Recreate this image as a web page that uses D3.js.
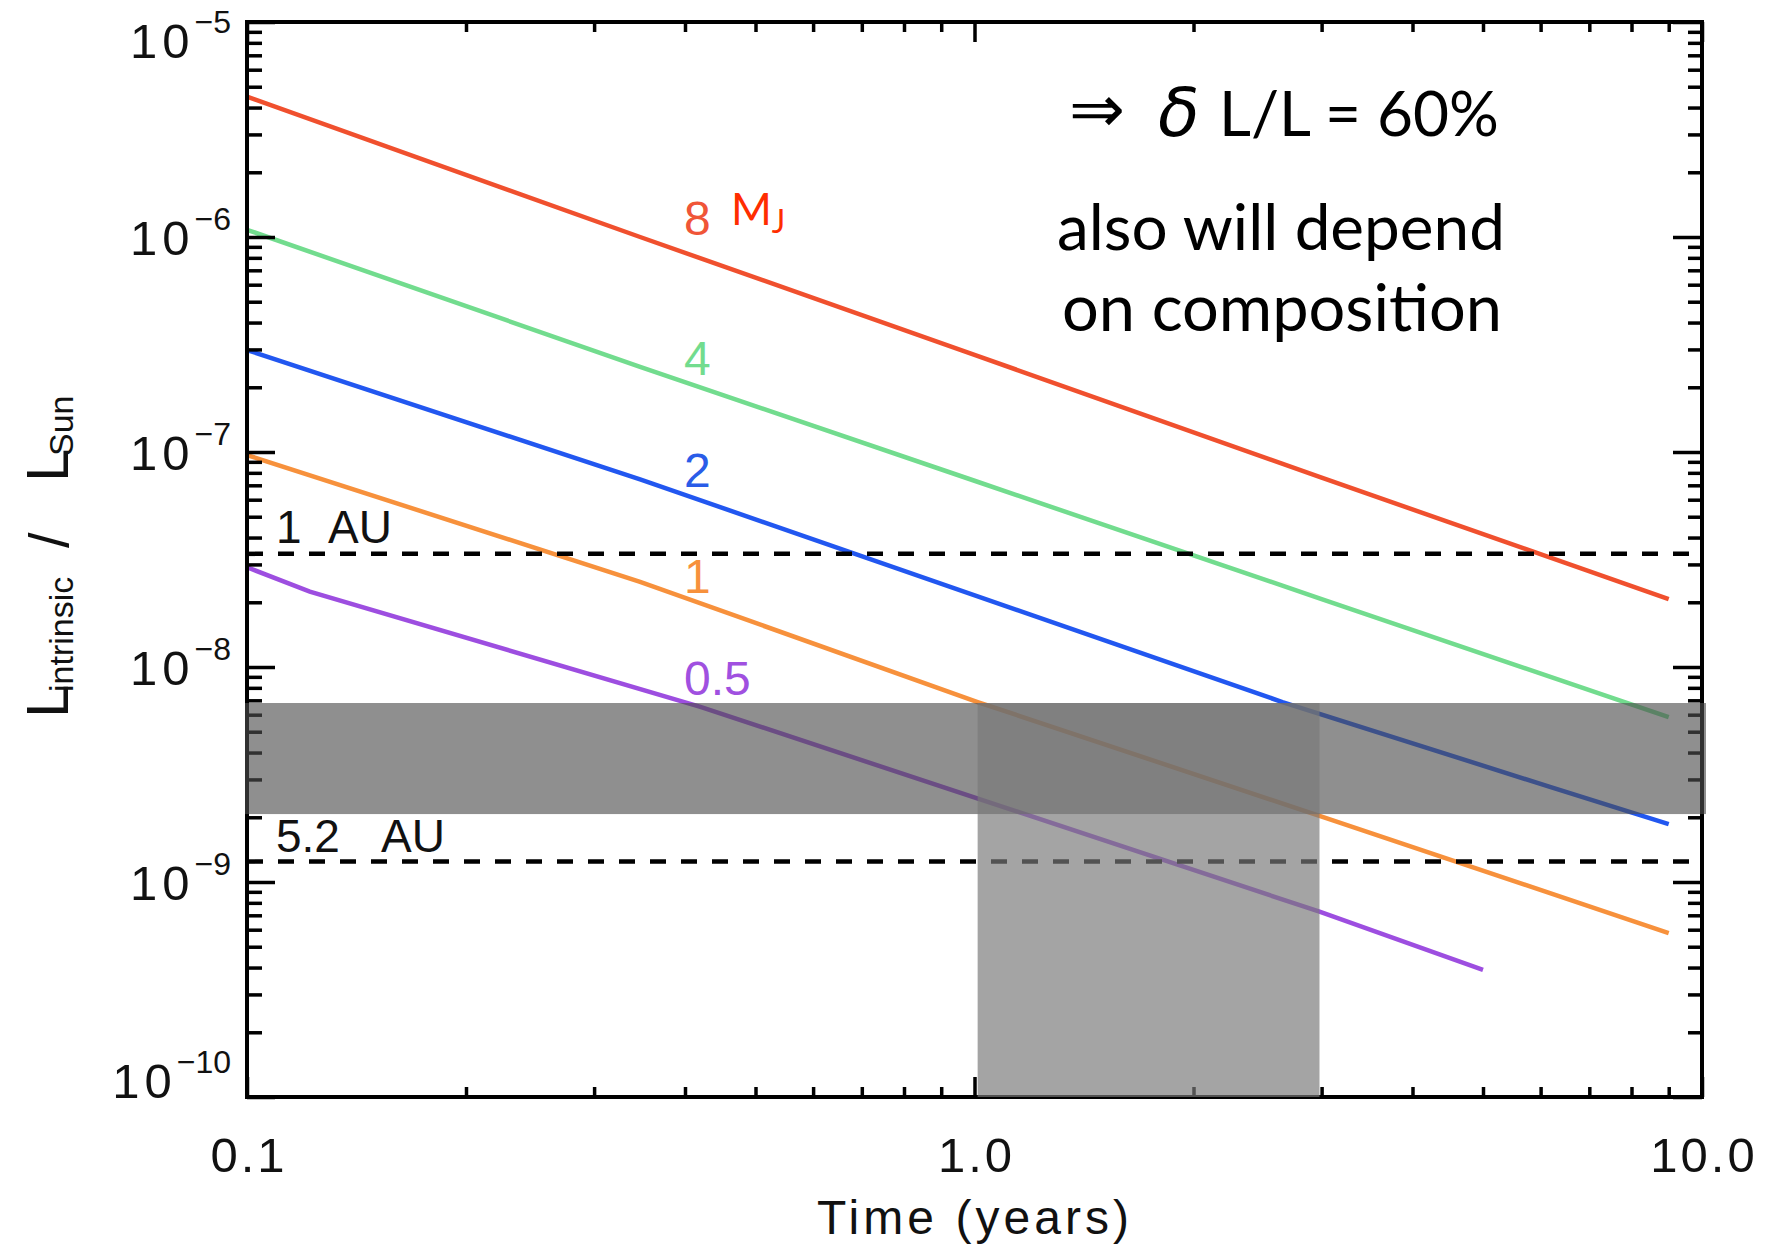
<!DOCTYPE html>
<html><head><meta charset="utf-8">
<script src="https://cdn.jsdelivr.net/npm/d3@7"></script>
<style>body{margin:0;background:#fff} svg{display:block}</style>
</head><body><svg id="c" width="1777" height="1250"></svg>
<script>
// ---------------- data ----------------
const massLabels = ["8", "4", "2", "1", "0.5"];
const seriesColors = ["#f0502e", "#72dc8e", "#2257f0", "#f7913c", "#9d4ee0"];
const time8 = [0.1, 0.347, 1, 3, 9];
const lum8 = [4.50e-6, 1.00e-6, 2.83e-7, 7.6e-8, 2.07e-8];
const time4 = [0.1, 0.347, 1, 3, 9];
const lum4 = [1.08e-6, 2.49e-7, 7.35e-8, 2.07e-8, 5.85e-9];
const time2 = [0.1, 0.347, 2.65, 6.18, 9];
const lum2 = [2.98e-7, 7.46e-8, 6.87e-9, 2.77e-9, 1.86e-9];
const time1 = [0.1, 0.347, 1.01, 2.98, 9];
const lum1 = [9.68e-8, 2.49e-8, 6.87e-9, 2.03e-9, 5.79e-10];
const time05 = [0.1, 0.122, 0.42, 2.98, 5];
const lum05 = [2.91e-8, 2.24e-8, 6.53e-9, 7.28e-10, 3.90e-10];

const xTickValues = [0.1, 1, 10];
const xTickLabels = ["0.1", "1.0", "10.0"];
const yTickExponents = [-5, -6, -7, -8, -9, -10];

const orbitLabels = ["1", "5.2"];
const orbitLum = [3.36e-8, 1.245e-9];
const bandLum = [2.07e-9, 6.8e-9];
const bandTime = [1.01, 2.98];

// ---------------- layout ----------------
const L = 247, R = 1702, T = 22, B = 1097;
const svg = d3.select("#c");
const x = d3.scaleLog().domain([0.1, 10]).range([L, R]);
const y = d3.scaleLog().domain([1e-10, 1e-5]).range([B, T]);
const tickFont = "'Liberation Sans', Arial, Helvetica, sans-serif";
const annFont = "Lato, 'Noto Sans', sans-serif";

const series = [
  [time8, lum8], [time4, lum4], [time2, lum2], [time1, lum1], [time05, lum05]
].map((s, i) => ({ color: seriesColors[i], pts: s[0].map((t, j) => [t, s[1][j]]) }));

// curves
const line = d3.line().x(d => x(d[0])).y(d => y(d[1]));
svg.append("g").selectAll("path").data(series).join("path")
  .attr("d", d => line(d.pts)).attr("fill", "none")
  .attr("stroke", d => d.color).attr("stroke-width", 4.5);

// dashed orbit lines
svg.append("g").selectAll("line").data(orbitLum).join("line")
  .attr("x1", L).attr("x2", R).attr("y1", d => y(d)).attr("y2", d => y(d))
  .attr("stroke", "#000").attr("stroke-width", 4.5).attr("stroke-dasharray", "16,15");

// axes ticks
const isMajor = v => Math.abs(Math.log10(v) - Math.round(Math.log10(v))) < 1e-9;
const xAll = x.ticks(), yAll = y.ticks();
const xMinor = xAll.filter(v => !isMajor(v)), xMajor = xAll.filter(isMajor);
const yMinor = yAll.filter(v => !isMajor(v)), yMajor = yAll.filter(isMajor);
function addAxis(gen, vals, size, tr) {
  const g = svg.append("g").attr("transform", tr)
    .call(gen.tickValues(vals).tickSize(-size).tickFormat(""));
  g.select(".domain").remove();
  g.selectAll(".tick line").attr("stroke", "#000").attr("stroke-width", 3.5);
}
addAxis(d3.axisLeft(y), yMinor, 15, `translate(${L},0)`);
addAxis(d3.axisLeft(y), yMajor, 28, `translate(${L},0)`);
addAxis(d3.axisRight(y), yMinor, 14, `translate(${R},0)`);
addAxis(d3.axisRight(y), yMajor, 29, `translate(${R},0)`);
addAxis(d3.axisBottom(x), xMinor, 10, `translate(0,${B})`);
addAxis(d3.axisBottom(x), xMajor, 20, `translate(0,${B})`);
addAxis(d3.axisTop(x), xMinor, 10, `translate(0,${T})`);
addAxis(d3.axisTop(x), xMajor, 20, `translate(0,${T})`);
svg.append("rect").attr("x", L).attr("y", T).attr("width", R - L).attr("height", B - T)
  .attr("fill", "none").attr("stroke", "#000").attr("stroke-width", 4);

// shaded bands
svg.append("rect")
  .attr("x", x(0.1) - 2).attr("width", x(10) - x(0.1) + 6)
  .attr("y", y(bandLum[1])).attr("height", y(bandLum[0]) - y(bandLum[1]))
  .attr("fill", "rgb(77,77,77)").attr("fill-opacity", 0.63);
svg.append("rect")
  .attr("x", x(bandTime[0])).attr("width", x(bandTime[1]) - x(bandTime[0]))
  .attr("y", y(bandLum[1])).attr("height", y(1e-10) - y(bandLum[1]))
  .attr("fill", "rgb(121,121,121)").attr("fill-opacity", 0.68);

// x tick labels
svg.append("g").selectAll("text").data(xTickValues).join("text")
  .attr("x", d => x(d) + 2).attr("y", 1172).attr("text-anchor", "middle")
  .attr("font-family", tickFont).attr("font-size", 49).attr("letter-spacing", 3)
  .attr("fill", "#111")
  .text((d, i) => xTickLabels[i]);

// y tick labels
yTickExponents.forEach((e, i) => {
  let base = y(Math.pow(10, e)) + 18;
  if (i === 0) base += 18;
  if (i === yTickExponents.length - 1) base -= 17;
  const t = svg.append("text").attr("x", 231).attr("y", base).attr("text-anchor", "end")
    .attr("font-family", tickFont).attr("font-size", 49).attr("fill", "#111");
  t.append("tspan").attr("letter-spacing", 5).text("10");
  t.append("tspan").attr("font-size", 32).attr("dy", -25).text("\u2212" + Math.abs(e));
});

// axis titles
svg.append("text").attr("x", 973).attr("y", 1234).attr("text-anchor", "middle")
  .attr("font-family", tickFont).attr("font-size", 48).attr("fill", "#111")
  .attr("textLength", 312).attr("lengthAdjust", "spacing").text("Time (years)");

const yl = svg.append("g").attr("transform", "translate(68,0) rotate(-90)")
  .attr("font-family", tickFont).attr("fill", "#111");
yl.append("text").attr("x", -718).attr("y", 0).attr("font-size", 60).text("L");
yl.append("text").attr("x", -692).attr("y", 5).attr("font-size", 34).text("intrinsic");
yl.append("text").attr("x", -548).attr("y", 0).attr("font-size", 56).text("/");
yl.append("text").attr("x", -482).attr("y", 0).attr("font-size", 60).text("L");
yl.append("text").attr("x", -456).attr("y", 5).attr("font-size", 34).text("Sun");

// orbit labels
const orbitLayout = [{ x: 276, ax: 328, y: 543 }, { x: 276, ax: 381, y: 852 }];
orbitLabels.forEach((lab, i) => {
  const t = svg.append("text").attr("font-family", tickFont).attr("font-size", 46).attr("fill", "#111");
  t.append("tspan").attr("x", orbitLayout[i].x).attr("y", orbitLayout[i].y).text(lab);
  t.append("tspan").attr("x", orbitLayout[i].ax).attr("y", orbitLayout[i].y).text("AU");
});

// mass labels
const labelBase = [235, 375, 487, 593, 695];
const labelColors = ["#f05538", "#72dc8e", "#2a5ce8", "#f7913c", "#a050e0"];
massLabels.forEach((m, i) => {
  svg.append("text").attr("x", 684).attr("y", labelBase[i])
    .attr("font-family", tickFont).attr("font-size", 48).attr("fill", labelColors[i]).text(m);
});
const mj = svg.append("text").attr("x", 731).attr("y", 225)
  .attr("font-family", annFont).attr("font-size", 44).attr("fill", "#ff2d00");
mj.append("tspan").text("M");
mj.append("tspan").attr("font-size", 32).attr("dy", 8).text("J");

// annotation
function fit(sel, target) {
  const w = sel.node().getComputedTextLength();
  const fs = parseFloat(sel.attr("font-size"));
  sel.attr("font-size", fs * target / w);
}
const arrow = svg.append("text").attr("x", 1069).attr("y", 132).attr("font-family", "'DejaVu Sans', sans-serif")
  .attr("font-size", 64).attr("fill", "#000").text("\u21D2");
fit(arrow, 56);
svg.append("text").attr("x", 1158).attr("y", 136).attr("font-family", "'DejaVu Sans', sans-serif")
  .attr("font-style", "italic").attr("font-size", 68).attr("fill", "#000").text("\u03B4");
const l1 = svg.append("text").attr("x", 1219).attr("y", 136).attr("font-family", annFont)
  .attr("font-size", 64).attr("fill", "#000").style("white-space", "pre").text("L/L = 60%");
fit(l1, 280);
const l2 = svg.append("text").attr("x", 1281).attr("y", 250).attr("text-anchor", "middle")
  .attr("font-family", annFont).attr("font-size", 64).attr("fill", "#000").text("also will depend");
fit(l2, 448);
const l3 = svg.append("text").attr("x", 1282).attr("y", 331).attr("text-anchor", "middle")
  .attr("font-family", annFont).attr("font-size", 64).attr("fill", "#000").text("on composition");
fit(l3, 440);
</script></body></html>
